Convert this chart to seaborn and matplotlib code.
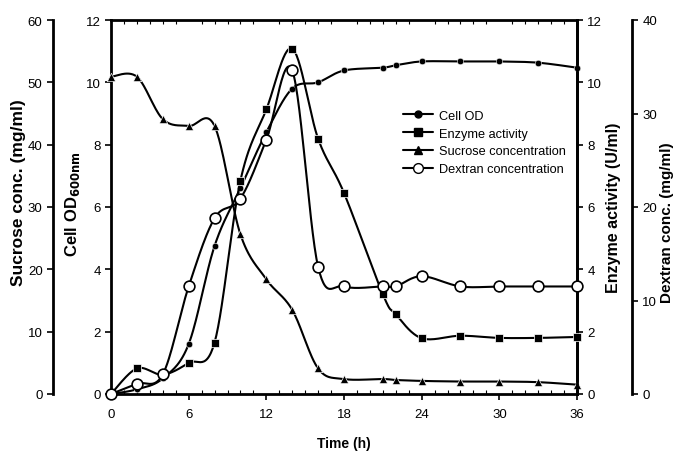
import numpy as np
import matplotlib
matplotlib.use("Agg")
import matplotlib.pyplot as plt
import seaborn as sns
from matplotlib.lines import Line2D

time_h = [0, 2, 4, 6, 8, 10, 12, 14, 16, 18, 21, 22, 24, 27, 30, 33, 36]
cell_od = [0, 0.15, 0.5, 1.6, 4.75, 6.6, 8.4, 9.8, 10.0, 10.38, 10.47, 10.55, 10.67, 10.67, 10.67, 10.63, 10.47]
enzyme = [0, 0.82, 0.62, 1.0, 1.65, 6.85, 9.13, 11.08, 8.19, 6.45, 3.2, 2.56, 1.79, 1.87, 1.8, 1.8, 1.83]
sucrose = [50.9, 50.9, 44.1, 43.0, 43.0, 25.6, 18.4, 13.5, 4.1, 2.4, 2.4, 2.25, 2.1, 2.0, 2.0, 1.9, 1.5]
dextran = [0, 1.1, 2.1, 11.5, 18.8, 20.9, 27.2, 34.6, 13.6, 11.5, 11.5, 11.5, 12.6, 11.5, 11.5, 11.5, 11.5]


def smooth(x, y, xmax, ymax, n=30):
    # excel-like smoothed line (catmull-rom through the points)
    p = np.column_stack([np.array(x) / xmax, np.array(y) / ymax])
    p = np.vstack([p[0], p, p[-1]])
    out = []
    t = np.linspace(0, 1, n)[:, None]
    for i in range(1, len(p) - 2):
        p0, p1, p2, p3 = p[i - 1], p[i], p[i + 1], p[i + 2]
        seg = 0.5 * ((2 * p1) + (-p0 + p2) * t + (2 * p0 - 5 * p1 + 4 * p2 - p3) * t ** 2
                     + (-p0 + 3 * p1 - 3 * p2 + p3) * t ** 3)
        out.append(seg)
    out = np.vstack(out)
    return out[:, 0] * xmax, out[:, 1] * ymax


sns.set_style("ticks")
plt.rcParams["font.family"] = ["Liberation Sans", "DejaVu Sans"]
for k in ["text.color", "axes.labelcolor", "xtick.color", "ytick.color", "axes.edgecolor"]:
    plt.rcParams[k] = "black"

fig = plt.figure(figsize=(6.78, 4.56), dpi=100)
ax = fig.add_axes([111 / 678, 1 - 395 / 456, 466 / 678, 374 / 456])
ax_suc = ax.twinx()
ax_enz = ax.twinx()
ax_dex = ax.twinx()

lw = 1.5
series = [
    (ax, cell_od, 12, dict(marker="o", s=22, color="black")),
    (ax_enz, enzyme, 12, dict(marker="s", s=40, color="black")),
    (ax_suc, sucrose, 60, dict(marker="^", s=36, color="black")),
    (ax_dex, dextran, 40, dict(marker="o", s=60, facecolor="white", edgecolor="black", linewidth=1.2)),
]
for a, vals, ymax, mk in series:
    sx, sy = smooth(time_h, vals, 36, ymax)
    sns.lineplot(x=sx, y=sy, ax=a, color="black", lw=lw, sort=False, estimator=None)
    sns.scatterplot(x=time_h, y=vals, ax=a, zorder=5, clip_on=False, **mk)

tick_fs = 9.5
ax.set_xlim(0, 36)
ax.set_xticks(range(0, 37, 6))
ax.set_xticks(range(0, 37, 1), minor=True)
ax.set_ylim(0, 12)
ax.set_yticks(range(0, 13, 2))
ax.tick_params(axis="x", which="major", direction="out", length=4, width=1.2, labelsize=tick_fs, pad=6)
ax.tick_params(axis="x", which="minor", direction="in", length=3, width=0.8, top=True)
ax.tick_params(axis="y", length=4, width=1.2, labelsize=tick_fs)
for s in ax.spines.values():
    s.set_linewidth(2)
ax.set_xlabel("Time (h)", fontsize=10, fontweight="bold")
ax.xaxis.set_label_coords(0.5, -0.112)
ax.set_ylabel(r"Cell OD$_{\mathbf{600nm}}$", fontsize=12, fontweight="bold")
ax.yaxis.set_label_coords(-0.062, 0.51)

# sucrose axis on the far left
ax_suc.set_ylim(0, 60)
ax_suc.set_yticks(range(0, 61, 10))
ax_suc.yaxis.set_ticks_position("left")
ax_suc.yaxis.set_label_position("left")
for k in ["top", "right", "bottom"]:
    ax_suc.spines[k].set_visible(False)
ax_suc.spines["left"].set_position(("axes", -0.1245))
ax_suc.spines["left"].set_linewidth(2)
ax_suc.tick_params(axis="y", length=4, width=1.2, labelsize=tick_fs)
ax_suc.set_ylabel("Sucrose conc. (mg/ml)", fontsize=12.5, fontweight="bold")
ax_suc.yaxis.set_label_coords(-0.183, 0.54)

# enzyme axis on the right
ax_enz.set_ylim(0, 12)
ax_enz.set_yticks(range(0, 13, 2))
for k in ["top", "left", "bottom"]:
    ax_enz.spines[k].set_visible(False)
ax_enz.spines["right"].set_linewidth(2)
ax_enz.tick_params(axis="y", length=4, width=1.2, labelsize=tick_fs)
ax_enz.set_ylabel("Enzyme activity (U/ml)", fontsize=11.5, fontweight="bold")
ax_enz.yaxis.set_label_coords(1.063, 0.5)

# dextran axis on the far right
ax_dex.set_ylim(0, 40)
ax_dex.set_yticks(range(0, 41, 10))
for k in ["top", "left", "bottom"]:
    ax_dex.spines[k].set_visible(False)
ax_dex.spines["right"].set_position(("axes", 1.118))
ax_dex.spines["right"].set_linewidth(2)
ax_dex.tick_params(axis="y", length=4, width=1.2, labelsize=tick_fs)
ax_dex.set_ylabel("Dextran conc. (mg/ml)", fontsize=11, fontweight="bold")
ax_dex.yaxis.set_label_coords(1.178, 0.46)

handles = [
    Line2D([], [], color="black", lw=lw, marker="o", markersize=5),
    Line2D([], [], color="black", lw=lw, marker="s", markersize=6),
    Line2D([], [], color="black", lw=lw, marker="^", markersize=6),
    Line2D([], [], color="black", lw=lw, marker="o", markersize=7, markerfacecolor="white"),
]
labels = ["Cell OD", "Enzyme activity", "Sucrose concentration", "Dextran concentration"]
fig.legend(handles, labels, loc="upper left", bbox_to_anchor=(0.578, 0.782), frameon=False,
           fontsize=9.2, handlelength=2.3, labelspacing=0.45, handletextpad=0.5)

fig.savefig("out.png", dpi=100)
